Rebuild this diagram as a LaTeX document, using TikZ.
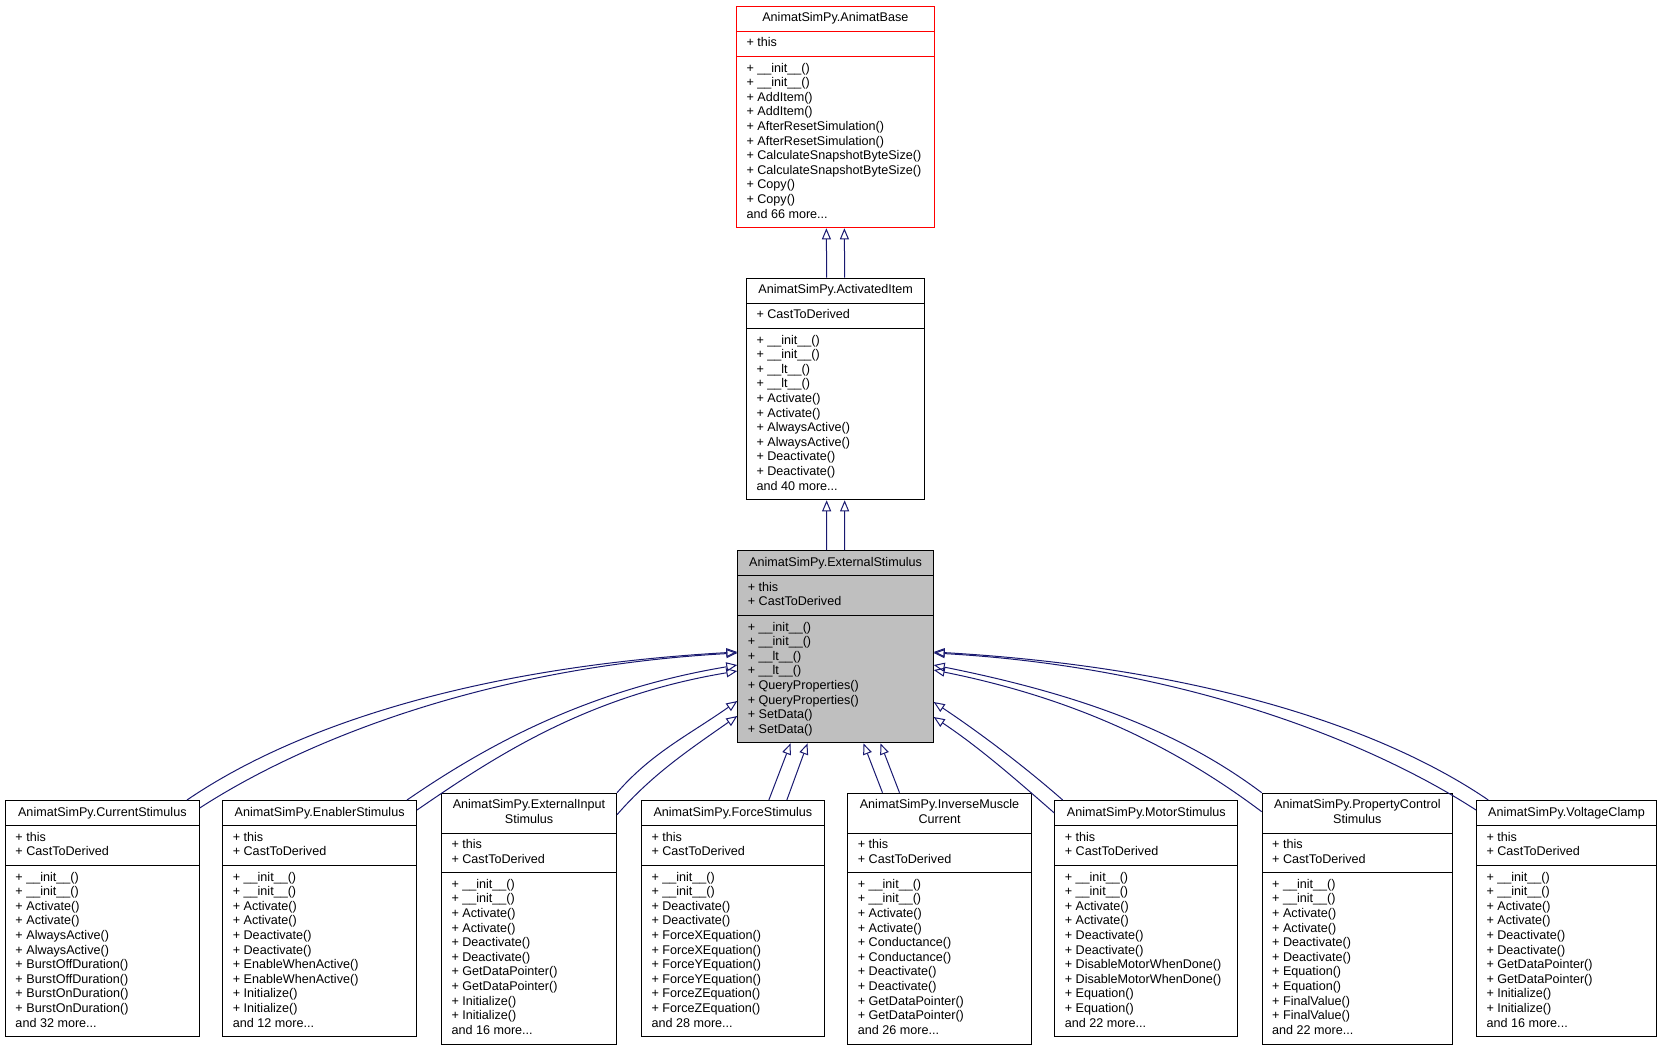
\documentclass[tikz,border=0pt]{standalone}
\usepackage{fontspec}
\setmainfont{Liberation Sans}
\usetikzlibrary{shapes.multipart,arrows.meta}
\definecolor{navy}{HTML}{191970}
\definecolor{curgray}{HTML}{BFBFBF}
\tikzset{
  cls/.style = {
    draw, line width=1pt, anchor=north west,
    rectangle split, rectangle split parts=3,
    rectangle split part align={center,left,left},
    inner xsep=10pt, inner ysep=4.8pt,
    font=\fontsize{12.6}{14.6}\selectfont
  },
  inherit/.style = {navy, line width=1pt, -{Triangle[open,length=11pt,width=9pt]}}
}
\newcommand{\clsname}[1]{\begin{tabular}{@{}c@{}}#1\end{tabular}}
\newcommand{\members}[1]{\begin{tabular}{@{}l@{}}#1\end{tabular}}
\newcommand{\twice}[1]{+ #1()\\+ #1()}

\begin{document}
\begin{tikzpicture}[x=1pt,y=-1pt]
  \useasboundingbox (0,0) rectangle (1661,1051);
  % parents
  \node[cls, draw=red, minimum width=197.7pt] (base) at (736,5.7)
    {\clsname{AnimatSimPy.AnimatBase}
     \nodepart{two}\members{+ this}
     \nodepart{three}\members{\twice{\_\_init\_\_}\\\twice{AddItem}\\\twice{AfterResetSimulation}\\
       \twice{CalculateSnapshotByteSize}\\\twice{Copy}\\and 66 more...}};
  \node[cls, minimum width=178.3pt] (activated) at (746,277.7)
    {\clsname{AnimatSimPy.ActivatedItem}
     \nodepart{two}\members{+ CastToDerived}
     \nodepart{three}\members{\twice{\_\_init\_\_}\\\twice{\_\_lt\_\_}\\\twice{Activate}\\
       \twice{AlwaysActive}\\\twice{Deactivate}\\and 40 more...}};
  \node[cls, fill=curgray, minimum width=195.4pt] (external) at (737.3,550)
    {\clsname{AnimatSimPy.ExternalStimulus}
     \nodepart{two}\members{+ this\\+ CastToDerived}
     \nodepart{three}\members{\twice{\_\_init\_\_}\\\twice{\_\_lt\_\_}\\\twice{QueryProperties}\\
       \twice{SetData}}};
  % derived classes
  \node[cls, minimum width=193.7pt] (current) at (5,800)
    {\clsname{AnimatSimPy.CurrentStimulus}
     \nodepart{two}\members{+ this\\+ CastToDerived}
     \nodepart{three}\members{\twice{\_\_init\_\_}\\\twice{Activate}\\\twice{AlwaysActive}\\
       \twice{BurstOffDuration}\\\twice{BurstOnDuration}\\and 32 more...}};
  \node[cls, minimum width=193.7pt] (enabler) at (222.3,800)
    {\clsname{AnimatSimPy.EnablerStimulus}
     \nodepart{two}\members{+ this\\+ CastToDerived}
     \nodepart{three}\members{\twice{\_\_init\_\_}\\\twice{Activate}\\\twice{Deactivate}\\
       \twice{EnableWhenActive}\\\twice{Initialize}\\and 12 more...}};
  \node[cls, minimum width=175pt] (extinput) at (441,792.7)
    {\clsname{AnimatSimPy.ExternalInput\\Stimulus}
     \nodepart{two}\members{+ this\\+ CastToDerived}
     \nodepart{three}\members{\twice{\_\_init\_\_}\\\twice{Activate}\\\twice{Deactivate}\\
       \twice{GetDataPointer}\\\twice{Initialize}\\and 16 more...}};
  \node[cls, minimum width=182.7pt] (force) at (641,800)
    {\clsname{AnimatSimPy.ForceStimulus}
     \nodepart{two}\members{+ this\\+ CastToDerived}
     \nodepart{three}\members{\twice{\_\_init\_\_}\\\twice{Deactivate}\\\twice{ForceXEquation}\\
       \twice{ForceYEquation}\\\twice{ForceZEquation}\\and 28 more...}};
  \node[cls, minimum width=183.4pt] (invmuscle) at (847.3,792.7)
    {\clsname{AnimatSimPy.InverseMuscle\\Current}
     \nodepart{two}\members{+ this\\+ CastToDerived}
     \nodepart{three}\members{\twice{\_\_init\_\_}\\\twice{Activate}\\\twice{Conductance}\\
       \twice{Deactivate}\\\twice{GetDataPointer}\\and 26 more...}};
  \node[cls, minimum width=183pt] (motor) at (1054.3,800)
    {\clsname{AnimatSimPy.MotorStimulus}
     \nodepart{two}\members{+ this\\+ CastToDerived}
     \nodepart{three}\members{\twice{\_\_init\_\_}\\\twice{Activate}\\\twice{Deactivate}\\
       \twice{DisableMotorWhenDone}\\\twice{Equation}\\and 22 more...}};
  \node[cls, minimum width=190.3pt] (propctrl) at (1261.7,792.7)
    {\clsname{AnimatSimPy.PropertyControl\\Stimulus}
     \nodepart{two}\members{+ this\\+ CastToDerived}
     \nodepart{three}\members{\twice{\_\_init\_\_}\\\twice{Activate}\\\twice{Deactivate}\\
       \twice{Equation}\\\twice{FinalValue}\\and 22 more...}};
  \node[cls, minimum width=180pt] (voltage) at (1476,800)
    {\clsname{AnimatSimPy.VoltageClamp}
     \nodepart{two}\members{+ this\\+ CastToDerived}
     \nodepart{three}\members{\twice{\_\_init\_\_}\\\twice{Activate}\\\twice{Deactivate}\\
       \twice{GetDataPointer}\\\twice{Initialize}\\and 16 more...}};
  % inheritance
  \draw[inherit] ([xshift=-9pt]activated.north) -- ([xshift=-9pt]base.south);
  \draw[inherit] ([xshift=9pt]activated.north) -- ([xshift=9pt]base.south);
  \draw[inherit] ([xshift=-9pt]external.north) -- ([xshift=-9pt]activated.south);
  \draw[inherit] ([xshift=9pt]external.north) -- ([xshift=9pt]activated.south);
  \draw[inherit] ([xshift=-12.7pt]current.north east) .. controls +(110,-75) and +(-260,15) .. ([yshift=-102pt]external.north west);
  \draw[inherit] ([yshift=-8pt]current.north east) .. controls +(105,-68) and +(-250,14) .. ([yshift=-103pt]external.north west);
  \draw[inherit] ([xshift=-10pt]enabler.north east) .. controls +(80,-55) and +(-150,25) .. ([yshift=-115pt]external.north west);
  \draw[inherit] ([yshift=-10pt]enabler.north east) .. controls +(80,-55) and +(-150,25) .. ([yshift=-121pt]external.north west);
  \draw[inherit] (extinput.north east) .. controls +(35,-40) and +(-50,35) .. ([yshift=-151pt]external.north west);
  \draw[inherit] ([yshift=-22pt]extinput.north east) .. controls +(35,-40) and +(-50,35) .. ([yshift=-166pt]external.north west);
  \draw[inherit] ([xshift=36pt]force.north) -- ([xshift=-45pt]external.south);
  \draw[inherit] ([xshift=54pt]force.north) -- ([xshift=-28pt]external.south);
  \draw[inherit] ([xshift=-57pt]invmuscle.north) -- ([xshift=28pt]external.south);
  \draw[inherit] ([xshift=-40pt]invmuscle.north) -- ([xshift=45pt]external.south);
  \draw[inherit] ([xshift=8.4pt]motor.north west) .. controls +(-40,-35) and +(45,30) .. ([yshift=-152pt]external.north east);
  \draw[inherit] ([yshift=-13pt]motor.north west) .. controls +(-40,-35) and +(45,30) .. ([yshift=-167pt]external.north east);
  \draw[inherit] (propctrl.north west) .. controls +(-80,-60) and +(150,30) .. ([yshift=-115pt]external.north east);
  \draw[inherit] ([yshift=-19pt]propctrl.north west) .. controls +(-80,-60) and +(150,30) .. ([yshift=-120pt]external.north east);
  \draw[inherit] ([xshift=12.3pt]voltage.north west) .. controls +(-110,-75) and +(260,15) .. ([yshift=-102pt]external.north east);
  \draw[inherit] ([yshift=-10pt]voltage.north west) .. controls +(-105,-68) and +(250,14) .. ([yshift=-103pt]external.north east);
\end{tikzpicture}
\end{document}
